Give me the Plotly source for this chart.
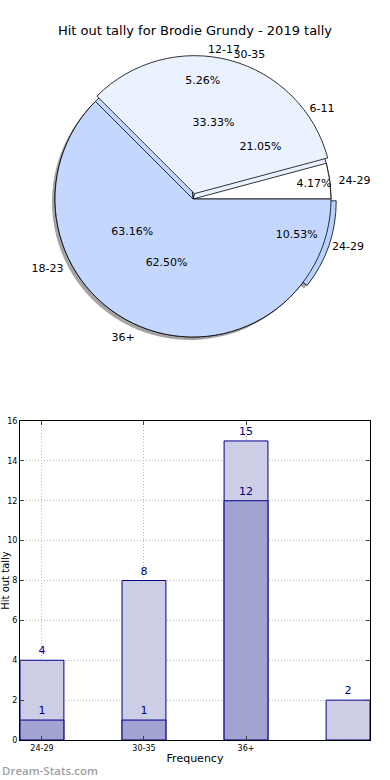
import plotly.graph_objects as go

# ---------------- data ----------------
title_text = "Hit out tally for Brodie Grundy - 2019 tally"

pie1_labels = ["6-11", "12-17", "18-23", "24-29"]
pie1_values = [4, 1, 12, 2]

pie2_labels = ["24-29", "30-35", "36+"]
pie2_values = [1, 8, 15]

bar_categories = ["24-29", "30-35", "36+", ""]
bar_light_values = [4, 8, 15, 2]
bar_dark_values = [1, 1, 12, None]
bar_tick_labels = ["24-29", "30-35", "36+"]

# ---------------- styles ----------------
FONT = "DejaVu Sans"
pie1_colors = ["#eaf1ff", "#eaf1ff", "#c4d8ff", "#b8d2ff"]
pie2_colors = ["#ffffff", "#eaf1ff", "#c4d8ff"]
light_bar = "#cdcde6"
dark_bar = "#a3a3d1"
edge = "#00008b"

W, H, ML, MR = 390, 780, 20, 20
PW = W - ML - MR
CX, CY, R = 193, 199, 138        # pie centre / radius in pixels
PULL = 0.04


def pie_domain(dx=0, dy=0):
    half = R * (1 + PULL)
    return dict(x=[(CX + dx - half - ML) / PW, (CX + dx + half - ML) / PW],
                y=[(H - (CY + dy) - half) / H, (H - (CY + dy) + half) / H])


def start_rotation(vals):
    # first slice starts at 3 o'clock and runs counter-clockwise
    return 90 - 360 * vals[0] / sum(vals)


fig = go.Figure()

common = dict(sort=False, direction="counterclockwise", showlegend=False,
              hoverinfo="skip")

# shadow of the first pie
fig.add_trace(go.Pie(
    labels=pie1_labels, values=pie1_values, rotation=start_rotation(pie1_values),
    pull=[0, 0, 0, PULL],
    marker=dict(colors=["rgba(90,90,90,0.55)"] * len(pie1_values), line=dict(width=0)),
    textinfo="none", domain=pie_domain(-3, 3), **common,
))
# bottom pie (coloured, no text)
fig.add_trace(go.Pie(
    labels=pie1_labels, values=pie1_values, rotation=start_rotation(pie1_values),
    pull=[0, 0, 0, PULL],
    marker=dict(colors=pie1_colors, line=dict(color="black", width=0.8)),
    textinfo="none", domain=pie_domain(), **common,
))
# top pie (coloured, percentages)
fig.add_trace(go.Pie(
    labels=pie2_labels, values=pie2_values, rotation=start_rotation(pie2_values),
    pull=[0, PULL, 0],
    marker=dict(colors=pie2_colors, line=dict(color="black", width=0.8)),
    texttemplate="%{percent:.2%}", textposition="inside",
    insidetextorientation="horizontal",
    textfont=dict(family=FONT, size=11, color="black"),
    domain=pie_domain(), **common,
))
# percentages of the bottom pie, drawn on top
fig.add_trace(go.Pie(
    labels=pie1_labels, values=pie1_values, rotation=start_rotation(pie1_values),
    pull=[0, 0, 0, PULL],
    marker=dict(colors=["rgba(0,0,0,0)"] * len(pie1_values), line=dict(width=0)),
    texttemplate="%{percent:.2%}", textposition="inside",
    insidetextorientation="horizontal",
    textfont=dict(family=FONT, size=11, color="black"),
    domain=pie_domain(), **common,
))
# outside labels (transparent copies)
for labs, vals in ((pie1_labels, pie1_values), (pie2_labels, pie2_values)):
    fig.add_trace(go.Pie(
        labels=labs, values=vals, rotation=start_rotation(vals),
        pull=[PULL] * len(vals),
        marker=dict(colors=["rgba(0,0,0,0)"] * len(vals), line=dict(width=0)),
        texttemplate="%{label}", textposition="outside",
        textfont=dict(family=FONT, size=11, color="black"),
        domain=pie_domain(), **common,
    ))

xpos = list(range(len(bar_categories)))
for vals, col in ((bar_light_values, light_bar), (bar_dark_values, dark_bar)):
    fig.add_trace(go.Bar(
        x=xpos, y=vals, width=0.43,
        marker=dict(color=col, line=dict(color=edge, width=1)),
        text=vals, textposition="outside", cliponaxis=False,
        textfont=dict(family=FONT, size=11, color=edge),
        showlegend=False, hoverinfo="skip",
    ))

grid = dict(showgrid=True, gridcolor="#b8b8b8", griddash="1px,2px", gridwidth=1,
            zeroline=False, showline=True, linecolor="black", linewidth=1,
            mirror="ticks", ticks="inside", ticklen=4, automargin=False,
            tickfont=dict(family=FONT, size=8))

fig.update_layout(
    width=W, height=H,
    margin=dict(l=ML, r=MR, t=0, b=0, autoexpand=False),
    paper_bgcolor="white", plot_bgcolor="white",
    barmode="overlay",
    font=dict(family=FONT, color="black"),
    title=dict(text=title_text, x=0.5, xref="container", y=1 - 30 / H,
               yref="container", yanchor="middle", xanchor="center",
               font=dict(family=FONT, size=13, color="black")),
    xaxis=dict(
        domain=[0, 1], range=[-0.215, 3.215],
        tickvals=[0, 1, 2], ticktext=bar_tick_labels,
        title=dict(text="Frequency", font=dict(family=FONT, size=11), standoff=2),
        **grid,
    ),
    yaxis=dict(
        domain=[40 / H, 359 / H], range=[0, 16], dtick=2,
        title=dict(text="Hit out tally", font=dict(family=FONT, size=10), standoff=12),
        **grid,
    ),
    uniformtext=dict(minsize=11, mode="show"),
    annotations=[dict(
        text="Dream-Stats.com", xref="paper", yref="paper",
        x=-ML / PW, y=10 / H, xanchor="left", yanchor="middle",
        showarrow=False,
        font=dict(family="Open Sans", size=11.5, color="#a0a0a0", weight=600),
    )],
)

fig.write_html(
    "out.html",
    config={"displayModeBar": False, "staticPlot": True},
    post_script="document.body.style.margin='0';document.body.style.overflow='hidden';",
)
